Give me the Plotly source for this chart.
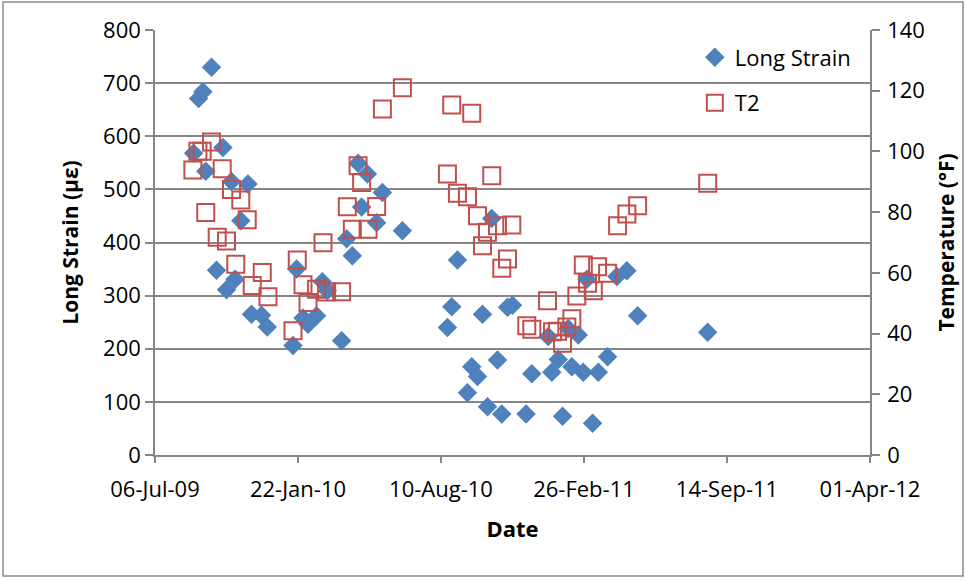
import plotly.graph_objects as go

# Long strain readings (microstrain) by date
strain_dates = [
    "2009-08-29", "2009-09-05", "2009-09-11", "2009-09-23", "2009-09-15", "2009-09-30",
    "2009-10-09", "2009-10-14", "2009-10-21", "2009-10-26", "2009-11-03", "2009-11-13",
    "2009-11-18", "2009-12-02", "2009-12-10",
    "2010-01-15", "2010-01-20", "2010-01-29", "2010-02-05", "2010-02-17", "2010-02-25",
    "2010-03-04", "2010-03-24", "2010-03-31", "2010-04-08", "2010-04-16", "2010-04-21",
    "2010-04-29", "2010-05-12", "2010-05-20", "2010-06-17",
    "2010-08-19", "2010-08-25", "2010-09-02", "2010-09-16", "2010-09-22", "2010-09-30",
    "2010-10-07", "2010-10-14", "2010-10-20", "2010-10-28", "2010-11-03", "2010-11-11",
    "2010-11-18", "2010-12-07", "2010-12-15",
    "2011-01-07", "2011-01-12", "2011-01-21", "2011-01-27", "2011-02-04", "2011-02-09",
    "2011-02-18", "2011-02-25", "2011-03-02", "2011-03-10", "2011-03-18", "2011-03-31",
    "2011-04-13", "2011-04-27", "2011-05-12", "2011-08-18",
]
strain_values = [
    568, 671, 684, 730, 534, 348, 579, 311, 515, 331, 441, 510, 265, 263, 241,
    206, 350, 258, 246, 262, 326, 309, 215, 407, 375, 549, 467, 529, 437, 494, 422,
    240, 279, 367, 117, 166, 148, 265, 91, 445, 179, 77, 278, 282, 77, 153,
    223, 156, 180, 73, 238, 166, 226, 156, 331, 60, 156, 185, 336, 347, 262, 231,
]

# T2 temperature readings (deg F) by date
t2_dates = [
    "2009-08-28", "2009-09-04", "2009-09-10", "2009-09-15", "2009-09-23", "2009-10-01",
    "2009-10-08", "2009-10-14", "2009-10-21", "2009-10-27", "2009-11-03", "2009-11-12",
    "2009-11-19", "2009-12-03", "2009-12-11",
    "2010-01-15", "2010-01-21", "2010-01-29", "2010-02-05", "2010-02-17", "2010-02-26",
    "2010-03-03", "2010-03-24", "2010-04-01", "2010-04-08", "2010-04-16", "2010-04-21",
    "2010-04-30", "2010-05-12", "2010-05-20", "2010-06-17",
    "2010-08-19", "2010-08-25", "2010-09-02", "2010-09-16", "2010-09-22", "2010-09-30",
    "2010-10-07", "2010-10-14", "2010-10-20", "2010-10-28", "2010-11-03", "2010-11-11",
    "2010-11-17", "2010-12-08", "2010-12-15",
    "2011-01-06", "2011-01-13", "2011-01-20", "2011-01-27", "2011-02-02", "2011-02-09",
    "2011-02-16", "2011-02-25", "2011-03-03", "2011-03-11", "2011-03-17", "2011-03-31",
    "2011-04-14", "2011-04-27", "2011-05-12", "2011-08-18",
]
t2_values = [
    93.9, 100.1, 100.1, 79.9, 103.1, 71.7, 94.3, 70.5, 87.5, 62.8, 84.0, 77.5, 55.8, 60.1, 52.1,
    40.9, 64.2, 56.1, 50.2, 54.6, 69.9, 53.7, 53.8, 81.8, 74.4, 95.3, 89.8, 74.4, 81.9, 114.0, 121.0,
    92.6, 115.3, 86.2, 85.1, 112.6, 78.8, 68.9, 73.4, 92.0, 75.5, 61.5, 64.6, 75.8, 42.6, 41.4,
    50.8, 40.6, 40.8, 36.8, 42.2, 44.9, 52.4, 62.6, 56.6, 54.1, 62.0, 59.9, 75.5, 79.4, 82.1, 89.5,
]

# Date axis ticks, 200 days apart
x_ticks = ["2009-07-06", "2010-01-22", "2010-08-10", "2011-02-26", "2011-09-14", "2012-04-01"]
strain_ticks = [0, 100, 200, 300, 400, 500, 600, 700, 800]
temp_ticks = [0, 20, 40, 60, 80, 100, 120, 140]

FONT = "Open Sans"
GRID = "#868686"

fig = go.Figure()
fig.add_trace(go.Scatter(
    x=strain_dates, y=strain_values, mode="markers", name="Long Strain",
    legendgroup="a",
    marker=dict(symbol="diamond", size=15, color="#4F81BD"),
))
fig.add_trace(go.Scatter(
    x=t2_dates, y=t2_values, mode="markers", name="T2", yaxis="y2",
    legendgroup="b",
    marker=dict(symbol="square-open", size=17, color="#C0504D",
                line=dict(width=2, color="#C0504D")),
))

fig.update_layout(
    width=966, height=580,
    margin=dict(l=155, r=96, t=30, b=125, autoexpand=False),
    paper_bgcolor="white", plot_bgcolor="white",
    font=dict(family=FONT, size=22, color="black"),
    showlegend=True,
    legend=dict(x=0.755, y=0.985, xanchor="left", yanchor="top",
                font=dict(size=22), bgcolor="rgba(0,0,0,0)",
                tracegroupgap=14, itemsizing="trace"),
    xaxis=dict(
        type="date", range=[x_ticks[0], x_ticks[-1]],
        tickvals=x_ticks, tickformat="%d-%b-%y",
        showgrid=False, zeroline=False,
        showline=True, linecolor=GRID, linewidth=1.5,
        ticks="outside", ticklen=6, tickcolor=GRID, tickwidth=1.5,
        ticklabelstandoff=8,
        title=dict(text="<b>Date</b>", font=dict(size=22), standoff=19),
    ),
    yaxis=dict(
        range=[0, 800], tickvals=strain_ticks,
        showgrid=True, gridcolor=GRID, gridwidth=1.5, zeroline=False,
        showline=True, linecolor=GRID, linewidth=1.5,
        ticks="outside", ticklen=8, tickcolor=GRID, tickwidth=1.5,
        title=dict(text="<b>Long Strain (\u00b5\u03b5)</b>", font=dict(size=21), standoff=19),
    ),
    yaxis2=dict(
        range=[0, 140], tickvals=temp_ticks, overlaying="y", side="right",
        showgrid=False, zeroline=False,
        showline=True, linecolor=GRID, linewidth=1.5,
        ticks="outside", ticklen=8, tickcolor=GRID, tickwidth=1.5,
        ticklabelstandoff=3,
        title=dict(text="<b>Temperature (\u00b0F)</b>", font=dict(size=21), standoff=15),
    ),
    shapes=[dict(
        type="rect", xref="paper", yref="paper",
        x0=-0.2126, x1=1.1301, y0=-0.2847, y1=1.0659,
        line=dict(color="#8C8C8C", width=1.5), fillcolor="rgba(0,0,0,0)", layer="below",
    )],
)

fig.write_html("out.html")
